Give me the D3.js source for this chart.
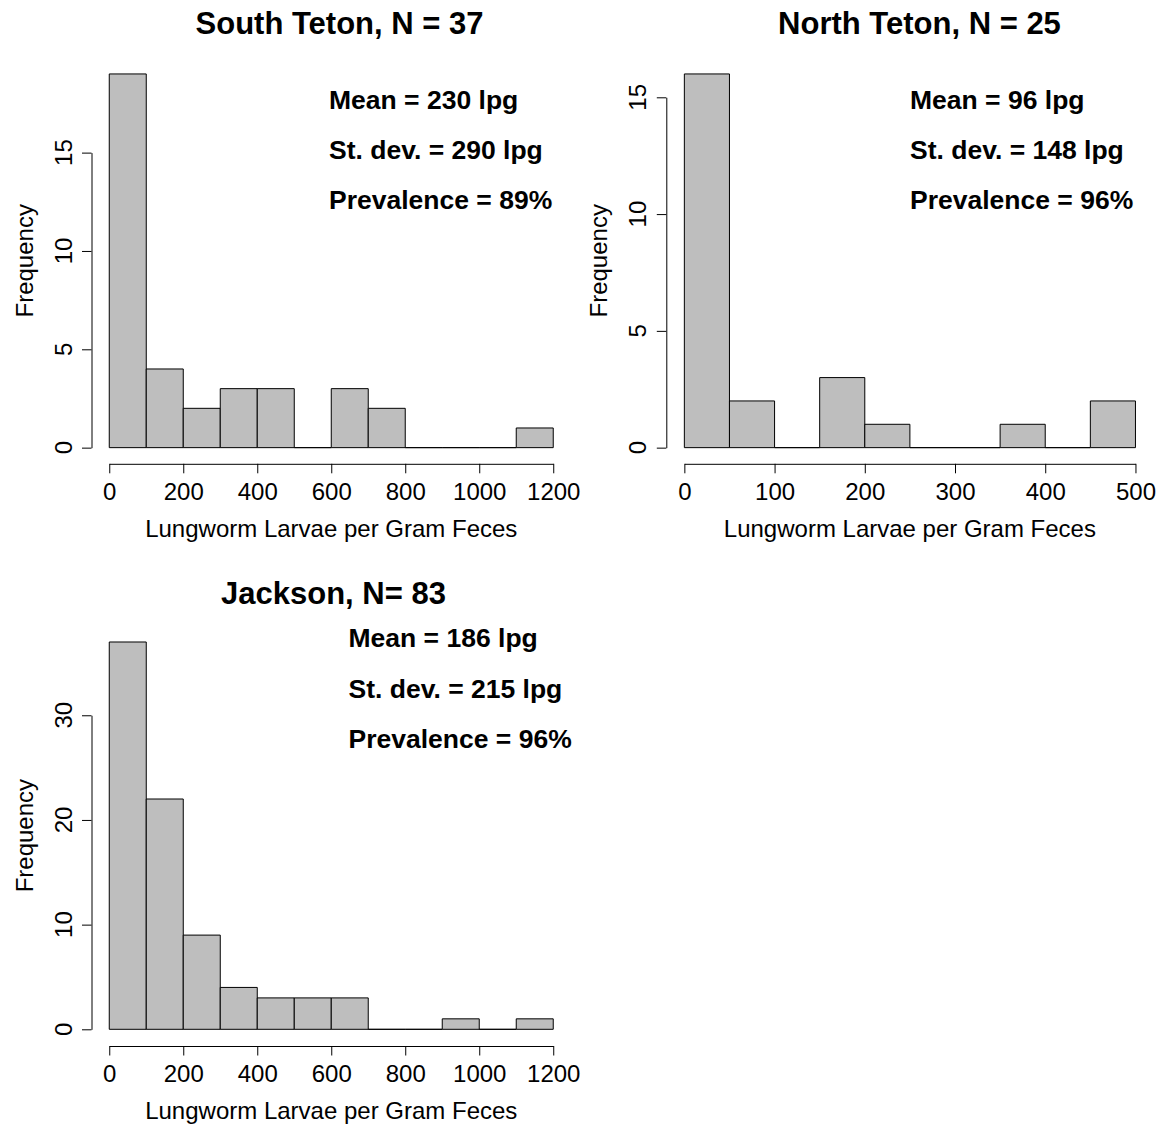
<!DOCTYPE html>
<html>
<head>
<meta charset="utf-8">
<script src="https://cdn.jsdelivr.net/npm/d3@7"></script>
<style>
  body { margin: 0; background: #fff; }
  svg { display: block; }
</style>
</head>
<body>
<script>
// bin edges and counts
const southEdges = [0, 100, 200, 300, 400, 500, 600, 700, 800, 900, 1000, 1100, 1200];
const southCounts = [19, 4, 2, 3, 3, 0, 3, 2, 0, 0, 0, 1];
const southTicksX = [0, 200, 400, 600, 800, 1000, 1200];
const southTicksY = [0, 5, 10, 15];
const southStats = ["Mean = 230 lpg", "St. dev. = 290 lpg", "Prevalence = 89%"];

const northEdges = [0, 50, 100, 150, 200, 250, 300, 350, 400, 450, 500];
const northCounts = [16, 2, 0, 3, 1, 0, 0, 1, 0, 2];
const northTicksX = [0, 100, 200, 300, 400, 500];
const northTicksY = [0, 5, 10, 15];
const northStats = ["Mean = 96 lpg", "St. dev. = 148 lpg", "Prevalence = 96%"];

const jacksonEdges = [0, 100, 200, 300, 400, 500, 600, 700, 800, 900, 1000, 1100, 1200];
const jacksonCounts = [37, 22, 9, 4, 3, 3, 3, 0, 0, 1, 0, 1];
const jacksonTicksX = [0, 200, 400, 600, 800, 1000, 1200];
const jacksonTicksY = [0, 10, 20, 30];
const jacksonStats = ["Mean = 186 lpg", "St. dev. = 215 lpg", "Prevalence = 96%"];

const titles = ["South Teton, N = 37", "North Teton, N = 25", "Jackson, N= 83"];
const xLabel = "Lungworm Larvae per Gram Feces";
const yLabel = "Frequency";

const font = "'Liberation Sans', Arial, Helvetica, sans-serif";

const panels = [
  { title: titles[0], edges: southEdges, counts: southCounts, tx: southTicksX, ty: southTicksY, stats: southStats,
    left: 91.5, right: 571, top: 59, bottom: 462.6, titleX: 339.5, titleY: 34, statX: 329, statY: [108.5, 158.5, 208.5] },
  { title: titles[1], edges: northEdges, counts: northCounts, tx: northTicksX, ty: northTicksY, stats: northStats,
    left: 666.3, right: 1153.5, top: 59, bottom: 462.6, titleX: 919.5, titleY: 34, statX: 910, statY: [108.5, 158.5, 208.5] },
  { title: titles[2], edges: jacksonEdges, counts: jacksonCounts, tx: jacksonTicksX, ty: jacksonTicksY, stats: jacksonStats,
    left: 91.5, right: 571, top: 626.5, bottom: 1044.8, titleX: 333.5, titleY: 604, statX: 348.5, statY: [647, 698, 748] }
];

const svg = d3.select("body").append("svg")
  .attr("width", 1160)
  .attr("height", 1129)
  .style("font-family", font);

svg.append("rect").attr("width", 1160).attr("height", 1129).attr("fill", "#fff");

panels.forEach(p => {
  const g = svg.append("g");
  const x0 = p.edges[0], x1 = p.edges[p.edges.length - 1];
  const yMax = d3.max(p.counts);

  // R pads each axis range by 4%
  const x = d3.scaleLinear()
    .domain([x0 - 0.04 * (x1 - x0), x1 + 0.04 * (x1 - x0)])
    .range([p.left, p.right]);
  const y = d3.scaleLinear()
    .domain([-0.04 * yMax, yMax * 1.04])
    .range([p.bottom, p.top]);

  // bars (zero bins still leave a line on the baseline)
  g.selectAll("path.bar")
    .data(p.counts)
    .join("path")
    .attr("class", "bar")
    .attr("d", (c, i) => `M${x(p.edges[i])},${y(0)}V${y(c)}H${x(p.edges[i + 1])}V${y(0)}Z`)
    .attr("fill", "#bebebe")
    .attr("stroke", "#000")
    .attr("stroke-width", 1);

  // x axis, line only between the first and last tick
  const xa = x.copy().domain([p.tx[0], p.tx[p.tx.length - 1]])
    .range([x(p.tx[0]), x(p.tx[p.tx.length - 1])]);
  const gx = g.append("g")
    .attr("transform", `translate(0,${p.bottom + 1.2})`)
    .call(d3.axisBottom(xa).tickValues(p.tx).tickSize(9.5).tickSizeOuter(0).tickFormat(d3.format("d")));
  gx.attr("font-size", 24).attr("font-family", font);
  gx.selectAll(".tick text").attr("y", 36).attr("dy", null).attr("fill", "#000");

  // y axis
  const ya = y.copy().domain([p.ty[0], p.ty[p.ty.length - 1]])
    .range([y(p.ty[0]), y(p.ty[p.ty.length - 1])]);
  g.append("g")
    .attr("transform", `translate(${p.left},0)`)
    .call(d3.axisLeft(ya).tickValues(p.ty).tickSize(9.5).tickSizeOuter(0).tickFormat(""));

  g.selectAll("text.ytick")
    .data(p.ty)
    .join("text")
    .attr("class", "ytick")
    .attr("transform", d => `translate(${p.left - 20},${y(d)}) rotate(-90)`)
    .attr("text-anchor", "middle")
    .attr("font-size", 24)
    .text(d => d);

  // axis titles
  g.append("text")
    .attr("x", (p.left + p.right) / 2)
    .attr("y", p.bottom + 74.5)
    .attr("text-anchor", "middle")
    .attr("font-size", 24)
    .text(xLabel);

  g.append("text")
    .attr("transform", `translate(${p.left - 59},${(p.top + p.bottom) / 2}) rotate(-90)`)
    .attr("text-anchor", "middle")
    .attr("font-size", 24)
    .text(yLabel);

  // main title
  g.append("text")
    .attr("x", p.titleX)
    .attr("y", p.titleY)
    .attr("text-anchor", "middle")
    .attr("font-size", 31)
    .attr("font-weight", "bold")
    .text(p.title);

  // summary text
  g.selectAll("text.stat")
    .data(p.stats)
    .join("text")
    .attr("class", "stat")
    .attr("x", p.statX)
    .attr("y", (d, i) => p.statY[i])
    .attr("font-size", 26.5)
    .attr("font-weight", "bold")
    .text(d => d);
});
</script>
</body>
</html>
